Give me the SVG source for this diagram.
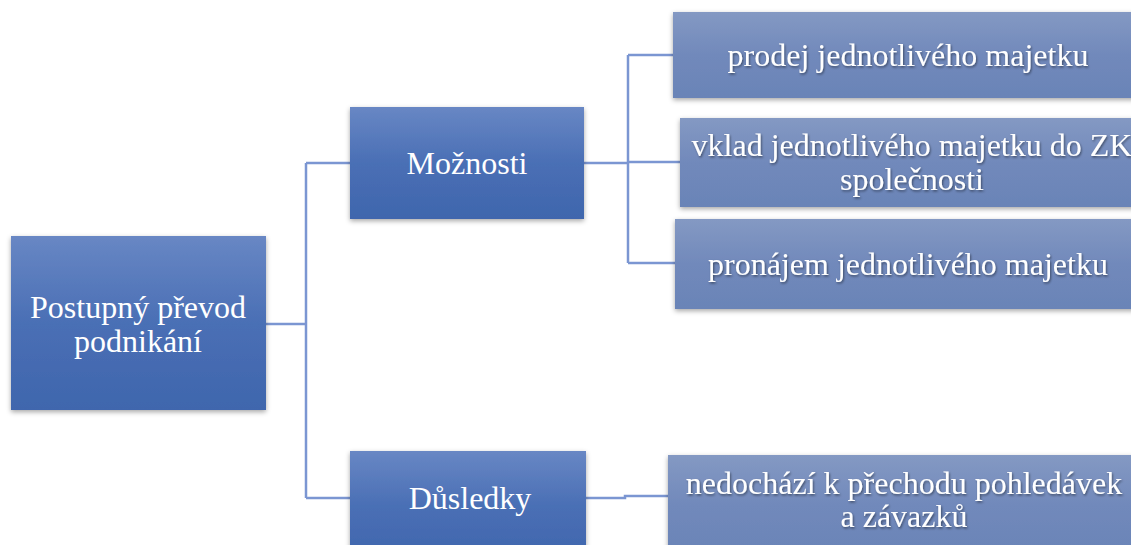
<svg xmlns="http://www.w3.org/2000/svg" width="1131" height="545" viewBox="0 0 1131 545">
<defs>
<linearGradient id="gDark" x1="0" y1="0" x2="0" y2="1">
<stop offset="0" stop-color="#6887c4"/>
<stop offset="0.5" stop-color="#4a6fb5"/>
<stop offset="1" stop-color="#3f66ad"/>
</linearGradient>
<linearGradient id="gLight" x1="0" y1="0" x2="0" y2="1">
<stop offset="0" stop-color="#8499c3"/>
<stop offset="0.5" stop-color="#7189bb"/>
<stop offset="1" stop-color="#6a84b7"/>
</linearGradient>
<filter id="shadow" x="-10%" y="-10%" width="120%" height="130%">
<feDropShadow dx="0" dy="2" stdDeviation="2.5" flood-color="#000" flood-opacity="0.35"/>
</filter>
<filter id="tshadow" x="-5%" y="-20%" width="110%" height="140%">
<feDropShadow dx="1" dy="1.5" stdDeviation="1" flood-color="#000" flood-opacity="0.45"/>
</filter>
</defs>
<style>
.conn{fill:none;stroke:#7b96d2;stroke-width:2.5}
.dark{fill:url(#gDark);filter:url(#shadow)}
.light{fill:url(#gLight);filter:url(#shadow)}
text{font-family:"Liberation Serif","Times New Roman",serif;fill:#fff;text-anchor:middle;font-size:32px}
.ts{filter:url(#tshadow)}
</style>
<rect width="1131" height="545" fill="#fff"/>
<g id="connectors">
<path class="conn" d="M266 324 H306 M306 163 V498 M306 163 H350 M306 498 H350"/>
<path class="conn" d="M583 163 H628 M628 55 V263 M628 55 H673 M628 162 H680 M628 263 H675"/>
<path class="conn" d="M585 498 H625 V496 H668"/>
</g>
<g id="node-root">
<rect class="dark" x="11" y="236" width="255" height="174"/>
<text x="138" y="318">Postupný převod</text>
<text x="138" y="352">podnikání</text>
</g>
<g id="node-moznosti">
<rect class="dark" x="350" y="107" width="234" height="112"/>
<text x="467" y="174">Možnosti</text>
</g>
<g id="node-dusledky">
<rect class="dark" x="350" y="451" width="236" height="110"/>
<text x="470" y="509">Důsledky</text>
</g>
<g id="node-prodej">
<rect class="light" x="673" y="12" width="480" height="86"/>
<text class="ts" x="908" y="66">prodej jednotlivého majetku</text>
</g>
<g id="node-vklad">
<rect class="light" x="680" y="118" width="480" height="89"/>
<text class="ts" x="912" y="156">vklad jednotlivého majetku do ZK</text>
<text class="ts" x="912" y="190">společnosti</text>
</g>
<g id="node-pronajem">
<rect class="light" x="675" y="219" width="480" height="90"/>
<text class="ts" x="908" y="275">pronájem jednotlivého majetku</text>
</g>
<g id="node-nedochazi">
<rect class="light" x="668" y="455" width="480" height="100"/>
<text class="ts" x="904" y="494">nedochází k přechodu pohledávek</text>
<text class="ts" x="904" y="527">a závazků</text>
</g>
</svg>
